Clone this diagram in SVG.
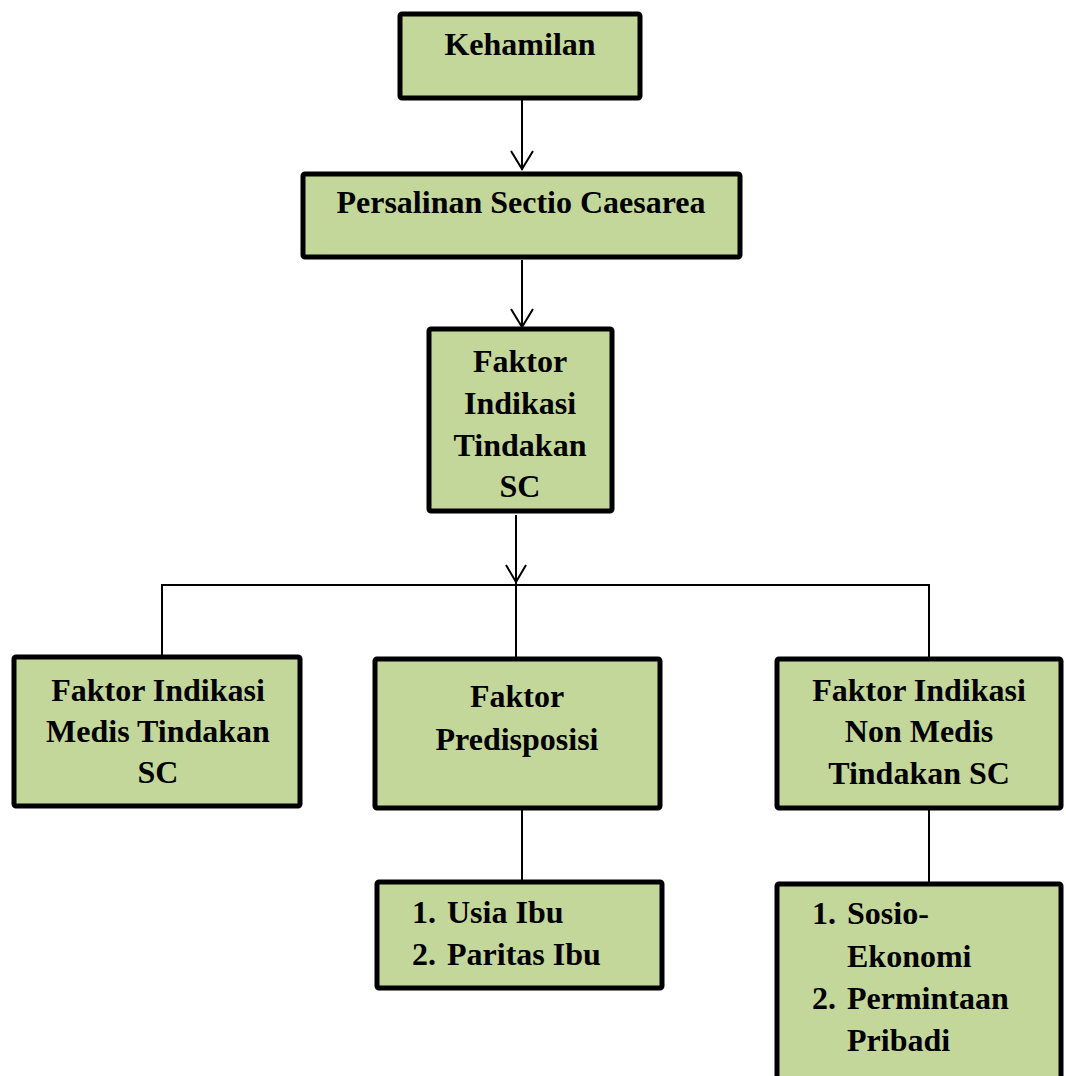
<svg xmlns="http://www.w3.org/2000/svg" width="1066" height="1076" viewBox="0 0 1066 1076">
<defs>
<style>
.box{fill:#c4d79b;stroke:#000;stroke-width:5;}
.t{font-family:"Liberation Serif","Times New Roman",serif;font-weight:bold;font-size:32px;fill:#000;}
.c{text-anchor:middle;}
.ln{fill:none;stroke:#000;stroke-width:2;}
</style>
</defs>
<rect width="1066" height="1076" fill="#fff"/>
<g id="connectors">
<line class="ln" x1="522" y1="100" x2="522" y2="170"/>
<path class="ln" d="M511,151 L522,169 L533,151"/>
<line class="ln" x1="522" y1="260" x2="522" y2="327"/>
<path class="ln" d="M511,309 L522,327 L533,309"/>
<line class="ln" x1="516" y1="515" x2="516" y2="660"/>
<path class="ln" d="M506,565 L516,582 L526,565"/>
<path class="ln" d="M162,657 L162,585 L929,585 L929,658"/>
<line class="ln" x1="522" y1="810" x2="522" y2="880"/>
<line class="ln" x1="929" y1="810" x2="929" y2="882"/>
</g>
<g id="n1">
<rect class="box" x="400" y="14" width="240" height="84" rx="2"/>
<text class="t c" x="520" y="55">Kehamilan</text>
</g>
<g id="n2">
<rect class="box" x="303" y="174" width="437" height="83" rx="2"/>
<text class="t c" x="521" y="213">Persalinan Sectio Caesarea</text>
</g>
<g id="n3">
<rect class="box" x="429" y="329" width="183" height="182" rx="2"/>
<text class="t c" x="520" y="372">Faktor</text>
<text class="t c" x="520" y="414">Indikasi</text>
<text class="t c" x="520" y="456">Tindakan</text>
<text class="t c" x="520" y="497">SC</text>
</g>
<g id="n4">
<rect class="box" x="14" y="657" width="286" height="149" rx="2"/>
<text class="t c" x="158" y="701">Faktor Indikasi</text>
<text class="t c" x="158" y="742">Medis Tindakan</text>
<text class="t c" x="158" y="783">SC</text>
</g>
<g id="n5">
<rect class="box" x="375" y="659" width="285" height="149" rx="2"/>
<text class="t c" x="517" y="707">Faktor</text>
<text class="t c" x="517" y="750">Predisposisi</text>
</g>
<g id="n6">
<rect class="box" x="777" y="659" width="284" height="149" rx="2"/>
<text class="t c" x="919" y="701">Faktor Indikasi</text>
<text class="t c" x="919" y="742">Non Medis</text>
<text class="t c" x="919" y="784">Tindakan SC</text>
</g>
<g id="n7">
<rect class="box" x="377" y="882" width="285" height="106" rx="2"/>
<text class="t" x="412" y="923">1.</text>
<text class="t" x="447" y="923">Usia Ibu</text>
<text class="t" x="412" y="965">2.</text>
<text class="t" x="447" y="965">Paritas Ibu</text>
</g>
<g id="n8">
<rect class="box" x="777" y="884" width="284" height="200" rx="2"/>
<text class="t" x="812" y="924">1.</text>
<text class="t" x="847" y="924">Sosio-</text>
<text class="t" x="847" y="967">Ekonomi</text>
<text class="t" x="812" y="1009">2.</text>
<text class="t" x="847" y="1009">Permintaan</text>
<text class="t" x="847" y="1051">Pribadi</text>
</g>
</svg>
